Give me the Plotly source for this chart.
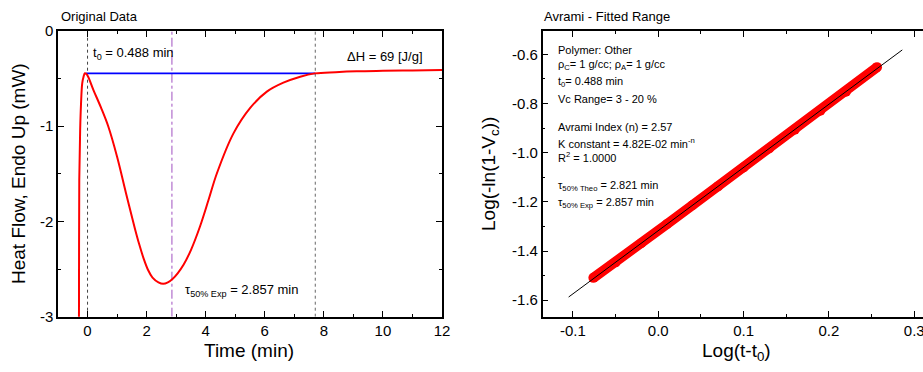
import plotly.graph_objects as go

W, H = 923, 372
FONT = "Liberation Sans"

# ---- Left panel data (DSC curve) ----
dsc_t = [-0.30, -0.29, -0.28, -0.25, -0.22, -0.18, -0.135, -0.09, -0.04, 0.02, 0.20, 0.45,
         0.70, 1.00, 1.30, 1.60, 1.75, 1.90, 2.05, 2.20, 2.40, 2.56, 2.72, 2.876, 3.05, 3.25,
         3.50, 3.81, 4.10, 4.38, 4.94, 5.50, 6.07, 6.63, 7.20, 7.70, 8.40, 9.11, 10.0, 11.0, 12.0]
dsc_v = [-3.3, -3.0, -1.565, -1.04, -0.76, -0.55, -0.48, -0.444, -0.452, -0.48, -0.62, -0.80,
         -1.00, -1.32, -1.70, -2.07, -2.24, -2.39, -2.51, -2.59, -2.64, -2.655, -2.64, -2.605, -2.545, -2.455,
         -2.30, -2.05, -1.77, -1.494, -1.075, -0.81, -0.637, -0.543, -0.48, -0.445, -0.432, -0.423, -0.418,
         -0.414, -0.41]
base_t = [-0.06, 7.71]
base_v = [-0.445, -0.445]
t0_line = 0.0
tend_line = 7.71
tau_exp = 2.857

# ---- Right panel data (Avrami) ----
av_x = [-0.076, -0.05, -0.02, 0.01, 0.04, 0.07, 0.10, 0.13, 0.16, 0.19, 0.22, 0.2564]
av_y = [-1.509, -1.446, -1.368, -1.291, -1.214, -1.137, -1.060, -0.983, -0.906, -0.829, -0.752, -0.652]
fit_x = [-0.105, 0.286]
fit_y = [-1.587, -0.582]

lx_ticks = [0, 2, 4, 6, 8, 10, 12]
ly_ticks = [0, -1, -2, -3]
ly_text = ["0", "-1", "-2", "-3"]
rx_ticks = [-0.1, 0.0, 0.1, 0.2, 0.3]
rx_text = ["-0.1", "0.0", "0.1", "0.2", "0.3"]
ry_ticks = [-0.6, -0.8, -1.0, -1.2, -1.4, -1.6]
ry_text = ["-0.6", "-0.8", "-1.0", "-1.2", "-1.4", "-1.6"]


def px(x):
    return x / W


def py(y):
    return 1 - y / H


fig = go.Figure()

# left panel traces
fig.add_trace(go.Scatter(x=[t0_line, t0_line], y=[-3, 0], mode="lines",
                         line=dict(color="#444", width=1, dash="dot"), xaxis="x", yaxis="y"))
fig.add_trace(go.Scatter(x=[tend_line, tend_line], y=[-3, 0], mode="lines",
                         line=dict(color="#666", width=1, dash="dot"), xaxis="x", yaxis="y"))
fig.add_trace(go.Scatter(x=[tau_exp, tau_exp], y=[-3, 0], mode="lines",
                         line=dict(color="#a050c0", width=1, dash="dashdot"), xaxis="x", yaxis="y"))
fig.add_trace(go.Scatter(x=base_t, y=base_v, mode="lines",
                         line=dict(color="#0000ff", width=1.6), xaxis="x", yaxis="y"))
fig.add_trace(go.Scatter(x=dsc_t, y=dsc_v, mode="lines", line_shape="spline",
                         line=dict(color="#ff0000", width=2, smoothing=1.0), xaxis="x", yaxis="y"))

# right panel traces
fig.add_trace(go.Scatter(x=av_x, y=av_y, mode="lines+markers",
                         line=dict(color="#ff0000", width=10),
                         marker=dict(color="#ff0000", size=10),
                         xaxis="x2", yaxis="y2"))
fig.add_trace(go.Scatter(x=fit_x, y=fit_y, mode="lines",
                         line=dict(color="#000000", width=1), xaxis="x2", yaxis="y2"))

ax_common = dict(showline=True, linecolor="black", linewidth=1.5, ticks="inside",
                 tickcolor="black", ticklen=6, tickwidth=1, showgrid=False, zeroline=False,
                 automargin=False, ticklabeloverflow="allow",
                 tickfont=dict(family=FONT, size=15, color="black"))

ydom = [py(316.7), py(31)]
fig.update_layout(
    template="none",
    width=W, height=H, margin=dict(l=0, r=0, t=0, b=0, pad=0),
    paper_bgcolor="white", plot_bgcolor="white", showlegend=False,
    font=dict(family=FONT, color="black"),
    xaxis=dict(domain=[px(58), px(442)], range=[-1, 12], tickvals=lx_ticks, mirror="ticks",
               minor=dict(dtick=1, tick0=-1, ticks="inside", ticklen=3, tickcolor="black"),
               anchor="y", **ax_common),
    yaxis=dict(domain=ydom, range=[-3, 0], tickvals=ly_ticks, ticktext=ly_text, mirror="ticks",
               minor=dict(dtick=0.5, tick0=0, ticks="inside", ticklen=3, tickcolor="black"),
               anchor="x", **ax_common),
    xaxis2=dict(domain=[px(542.7), 1.0], range=[-0.1354, 0.3103], tickvals=rx_ticks, ticktext=rx_text,
                mirror="ticks",
                minor=dict(dtick=0.05, tick0=0, ticks="inside", ticklen=3, tickcolor="black"),
                anchor="y2", **ax_common),
    yaxis2=dict(domain=ydom, range=[-1.667, -0.505], tickvals=ry_ticks, ticktext=ry_text, mirror=False,
                minor=dict(dtick=0.1, tick0=0, ticks="inside", ticklen=3, tickcolor="black"),
                anchor="x2", **ax_common),
)

ann = []


def add_text(text, x, y, size, xanchor="left", angle=0):
    ann.append(dict(text=text, x=px(x), y=py(y), xref="paper", yref="paper",
                    xanchor=xanchor, yanchor="middle", showarrow=False, textangle=angle,
                    font=dict(family=FONT, size=size, color="black")))


# left panel text
add_text("Original Data", 59, 17, 13)
add_text("t<sub>0</sub> = 0.488 min", 91, 54, 13)
add_text("ΔH = 69 [J/g]", 345, 57, 13)
add_text("τ<sub>50% Exp</sub> = 2.857 min", 183, 290, 13)
add_text("Time (min)", 249, 350, 19, xanchor="center")
add_text("Heat Flow, Endo Up (mW)", 18, 174, 19, xanchor="center", angle=-90)

# right panel text
add_text("Avrami - Fitted Range", 542, 17, 13)
info = [
    ("Polymer: Other", 50),
    ("ρ<sub>C</sub>= 1 g/cc; ρ<sub>A</sub>= 1 g/cc", 65),
    ("t<sub>0</sub>= 0.488 min", 82),
    ("Vc Range= 3 - 20 %", 99),
    ("Avrami Index (n) = 2.57", 127),
    ("K constant = 4.82E-02 min<sup>-n</sup>", 143),
    ("R<sup>2</sup> = 1.0000", 157),
    ("τ<sub>50% Theo</sub> = 2.821 min", 186),
    ("τ<sub>50% Exp</sub> = 2.857 min", 203),
]
for txt, yy in info:
    add_text(txt, 556, yy, 11)
add_text("Log(t-t<sub>0</sub>)", 736, 352, 19, xanchor="center")
add_text("Log(-ln(1-V<sub>c</sub>))", 490, 174, 19, xanchor="center", angle=-90)

fig.update_layout(annotations=ann)
fig.write_html("out.html")
